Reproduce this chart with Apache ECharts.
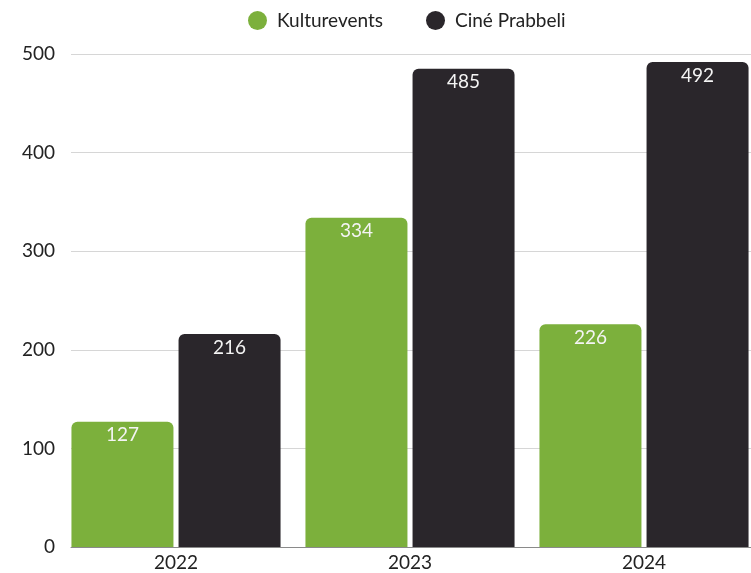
<!DOCTYPE html>
<html>
<head>
<meta charset="utf-8">
<script src="https://cdn.jsdelivr.net/npm/echarts@6/dist/echarts.min.js"></script>
<style>
  html, body { margin: 0; padding: 0; background: #fff; }
  #chart { width: 751px; height: 573px; }
</style>
</head>
<body>
<div id="chart"></div>
<script>
var years = ['2022', '2023', '2024'];
var kulturevents = [127, 334, 226];
var cinePrabbeli = [216, 485, 492];
var yTicks = [0, 100, 200, 300, 400, 500];

var chart = echarts.init(document.getElementById('chart'));

var font = 'Lato, "Noto Sans", sans-serif';
var barLabel = {
  show: true,
  position: 'insideTop',
  distance: 4,
  color: '#f4f4f4',
  fontSize: 19,
  fontFamily: font
};

chart.setOption({
  animation: false,
  legend: {
    top: 6,
    left: 243,
    icon: 'circle',
    itemWidth: 19,
    itemHeight: 19,
    itemGap: 43,
    textStyle: { fontSize: 19, color: '#222', fontFamily: font, padding: [0, 0, 0, 5] }
  },
  // grid 0 holds the bars, grid 1 only the gridlines and base line (they start at the first bar)
  grid: [
    { left: 59, width: 702, top: 54, bottom: 26, outerBoundsMode: 'none', containLabel: false },
    { left: 71, right: 0, top: 54, bottom: 26 }
  ],
  xAxis: [
    {
      type: 'category',
      gridIndex: 0,
      data: years,
      axisLine: { show: false },
      axisTick: { show: false },
      axisLabel: { fontSize: 19, color: '#222', fontFamily: font, margin: 6 }
    },
    {
      type: 'category',
      gridIndex: 1,
      data: years,
      axisLine: { show: true, lineStyle: { color: '#8a8a8a' } },
      axisTick: { show: false },
      axisLabel: { show: false }
    }
  ],
  yAxis: [
    {
      type: 'value',
      gridIndex: 0,
      min: yTicks[0],
      max: yTicks[yTicks.length - 1],
      interval: 100,
      axisLine: { show: false },
      axisTick: { show: false },
      axisLabel: { fontSize: 19, color: '#222', fontFamily: font, margin: 4 },
      splitLine: { show: false }
    },
    {
      type: 'value',
      gridIndex: 1,
      min: yTicks[0],
      max: yTicks[yTicks.length - 1],
      interval: 100,
      axisLine: { show: false },
      axisTick: { show: false },
      axisLabel: { show: false },
      splitLine: { lineStyle: { color: '#d6d6d6' } }
    }
  ],
  series: [
    {
      name: 'Kulturevents',
      type: 'bar',
      data: kulturevents,
      barWidth: 102,
      barGap: '5%',
      z: 3,
      itemStyle: { color: '#7cb03c', borderRadius: [6, 6, 0, 0] },
      label: barLabel
    },
    {
      name: 'Ciné Prabbeli',
      type: 'bar',
      data: cinePrabbeli,
      barWidth: 102,
      z: 3,
      itemStyle: { color: '#2a262b', borderRadius: [6, 6, 0, 0] },
      label: barLabel
    }
  ]
});
</script>
</body>
</html>
